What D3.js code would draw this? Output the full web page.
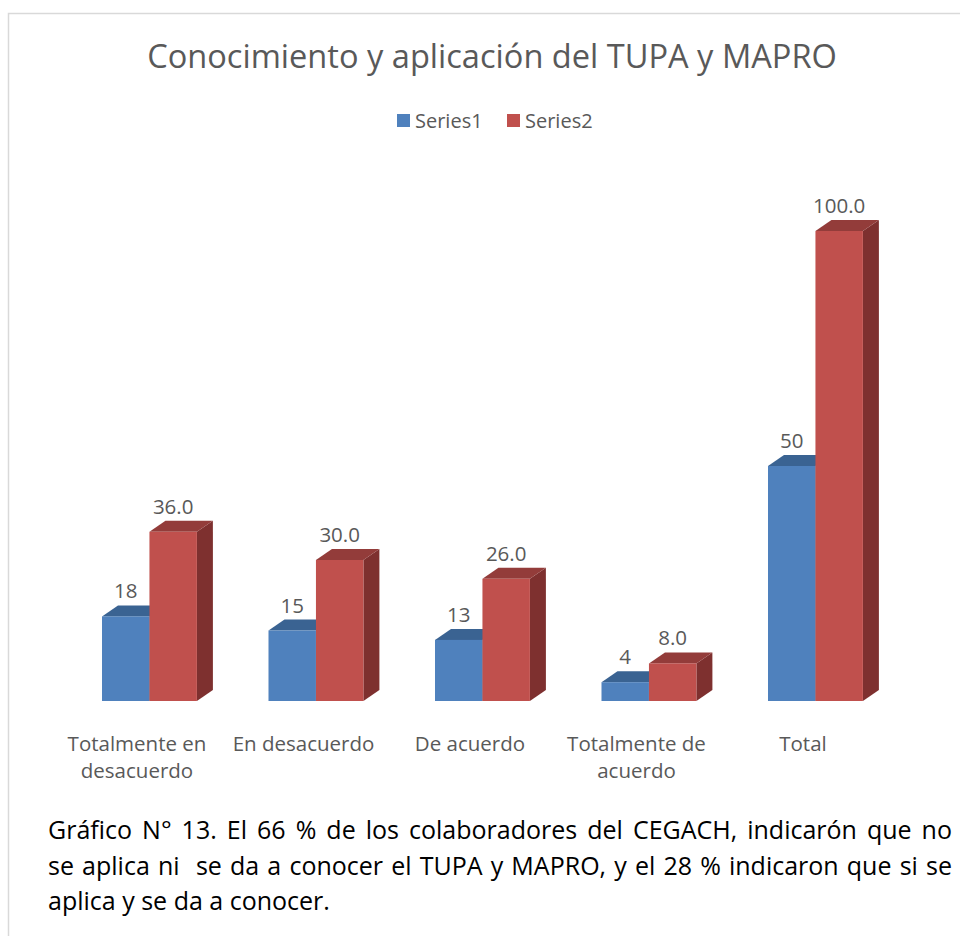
<!DOCTYPE html>
<html>
<head>
<meta charset="utf-8">
<script src="https://cdn.jsdelivr.net/npm/d3@7"></script>
<style>
  body { margin: 0; background: #fff; }
  #wrap { position: relative; width: 960px; height: 936px; overflow: hidden; }
  #caption {
    position: absolute; left: 48px; top: 812px; width: 904px;
    font-family: 'Open Sans', sans-serif; font-size: 25px; line-height: 35.5px;
    color: #000;
  }
  #caption div { text-align: justify; text-align-last: justify; white-space: nowrap; }
  #caption div.last { text-align-last: left; }
</style>
</head>
<body>
<div id="wrap">
  <div id="chart"></div>
  <div id="caption"></div>
</div>
<script>
const title = 'Conocimiento y aplicación del TUPA y MAPRO';
const categories = ['Totalmente en desacuerdo', 'En desacuerdo', 'De acuerdo', 'Totalmente de acuerdo', 'Total'];
const seriesNames = ['Series1', 'Series2'];
const series1 = [18, 15, 13, 4, 50];
const series2 = [36, 30, 26, 8, 100];
const captionLines = [
  'Gráfico N° 13. El 66 % de los colaboradores del CEGACH, indicarón que no',
  'se aplica ni\u00a0 se da a conocer el TUPA y MAPRO, y el 28 % indicaron que si se',
  'aplica y se da a conocer.'
];

const colors = {
  front: ['#4F81BD', '#C0504D'],
  top: ['#3A6392', '#933C3A'],
  side: ['#335683', '#7E302F']
};
const textColor = '#595959';
const font = "'Open Sans', sans-serif";

// Set the dimensions of the graph
const width = 960, height = 936;
const depthX = 16, depthY = -11;

const svg = d3
  .select('#chart')
  .append('svg')
  .attr('width', width)
  .attr('height', height)
  .style('position', 'absolute')
  .style('left', 0)
  .style('top', 0);

// Chart frame
svg.append('path')
  .attr('d', 'M8.5,936 V13.5 H960')
  .attr('fill', 'none')
  .attr('stroke', '#d9d9d9')
  .attr('stroke-width', 1.5);

// Chart Title
svg.append('text')
  .attr('x', 492)
  .attr('y', 68)
  .attr('text-anchor', 'middle')
  .style('font-family', font)
  .style('font-size', '32.6px')
  .style('fill', textColor)
  .text(title);

// Legend
const legend = svg.append('g');
const legendX = [397, 507];
seriesNames.forEach((name, i) => {
  legend.append('rect')
    .attr('x', legendX[i])
    .attr('y', 114)
    .attr('width', 13)
    .attr('height', 13)
    .attr('fill', colors.front[i]);
  legend.append('text')
    .attr('x', legendX[i] + 18)
    .attr('y', 128)
    .style('font-family', font)
    .style('font-size', '20px')
    .style('fill', textColor)
    .text(name);
});

// X axis (category bands)
const x = d3.scaleBand()
  .domain(categories)
  .range([66.2, 898.7])
  .paddingInner(0.43)
  .paddingOuter(0.215);

// Y axis
const y = d3.scaleLinear().domain([0, 100]).range([701, 231]);

const barW = x.bandwidth() / 2;

const data = [];
categories.forEach((c, i) => {
  data.push({ cat: c, s: 0, value: series1[i], label: d3.format('d')(series1[i]) });
  data.push({ cat: c, s: 1, value: series2[i], label: d3.format('.1f')(series2[i]) });
});

const bars = svg.selectAll('g.bar')
  .data(data)
  .enter()
  .append('g')
  .attr('class', 'bar');

// right side face
bars.append('path')
  .attr('d', (d) => {
    const x1 = x(d.cat) + d.s * barW + barW, y0 = y(0), y1 = y(d.value);
    return `M${x1},${y0} L${x1 + depthX},${y0 + depthY} L${x1 + depthX},${y1 + depthY} L${x1},${y1} Z`;
  })
  .attr('fill', (d) => colors.side[d.s]);

// top face
bars.append('path')
  .attr('d', (d) => {
    const x0 = x(d.cat) + d.s * barW, x1 = x0 + barW, y1 = y(d.value);
    return `M${x0},${y1} L${x0 + depthX},${y1 + depthY} L${x1 + depthX},${y1 + depthY} L${x1},${y1} Z`;
  })
  .attr('fill', (d) => colors.top[d.s]);

// front face
bars.append('rect')
  .attr('x', (d) => x(d.cat) + d.s * barW)
  .attr('y', (d) => y(d.value))
  .attr('width', barW)
  .attr('height', (d) => y(0) - y(d.value))
  .attr('fill', (d) => colors.front[d.s]);

// Data labels
bars.append('text')
  .attr('x', (d) => x(d.cat) + d.s * barW + barW / 2)
  .attr('y', (d) => y(d.value) + depthY - 7)
  .attr('text-anchor', 'middle')
  .style('font-family', font)
  .style('font-size', '20.5px')
  .style('fill', textColor)
  .text((d) => d.label);

// Category labels, wrapped
const catLabels = svg.selectAll('text.cat')
  .data(categories)
  .enter()
  .append('text')
  .attr('class', 'cat')
  .attr('text-anchor', 'middle')
  .style('font-family', font)
  .style('font-size', '20.5px')
  .style('fill', textColor);

catLabels.each(function (c) {
  const t = d3.select(this);
  const cx = x(c) + 35;
  const words = c.split(' ');
  let line = [];
  let lineNo = 0;
  let tspan = t.append('tspan').attr('x', cx).attr('y', 751);
  words.forEach((w) => {
    line.push(w);
    tspan.text(line.join(' '));
    if (tspan.node().getComputedTextLength() > 158 && line.length > 1) {
      line.pop();
      tspan.text(line.join(' '));
      line = [w];
      lineNo++;
      tspan = t.append('tspan').attr('x', cx).attr('y', 751 + lineNo * 27).text(w);
    }
  });
});

// Caption
d3.select('#caption')
  .selectAll('div')
  .data(captionLines)
  .enter()
  .append('div')
  .attr('class', (d, i) => (i === captionLines.length - 1 ? 'last' : null))
  .text((d) => d);
</script>
</body>
</html>
